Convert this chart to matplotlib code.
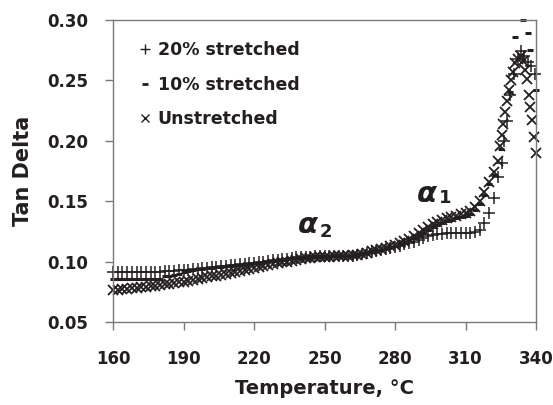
import matplotlib
matplotlib.use("Agg")
import matplotlib.pyplot as plt
from matplotlib.lines import Line2D

# ---------------- data ----------------
grid_T = list(range(160, 324, 2))  # sampling temperatures, 160..322 °C

s20_val = [0.0912, 0.0912, 0.0912, 0.0912, 0.0913, 0.0913, 0.0914, 0.0914, 0.0915, 0.0916,
           0.0918, 0.0920, 0.0922, 0.0925, 0.0928, 0.0931, 0.0934, 0.0937, 0.0941, 0.0945,
           0.0949, 0.0953, 0.0957, 0.0961, 0.0965, 0.0969, 0.0973, 0.0977, 0.0981, 0.0985,
           0.0990, 0.0995, 0.1000, 0.1005, 0.1010, 0.1015, 0.1020, 0.1025, 0.1030, 0.1034,
           0.1037, 0.1040, 0.1042, 0.1044, 0.1045, 0.1045, 0.1045, 0.1045, 0.1045, 0.1046,
           0.1047, 0.1050, 0.1055, 0.1062, 0.1070, 0.1078, 0.1087, 0.1095, 0.1104, 0.1113,
           0.1122, 0.1132, 0.1142, 0.1150, 0.1165, 0.1180, 0.1195, 0.1208, 0.1218, 0.1225,
           0.1230, 0.1233, 0.1235, 0.1236, 0.1236, 0.1237, 0.1238, 0.1245, 0.1265, 0.1320,
           0.1400, 0.1530]
s20_peak_T = [324.0, 325.4, 326.5, 327.6, 329.0, 330.5, 332.3, 333.7, 335.0, 336.5, 338.0, 339.6]
s20_peak_v = [0.170, 0.182, 0.200, 0.216, 0.238, 0.255, 0.268, 0.274, 0.270, 0.265, 0.262, 0.255]

s10_val = [0.0854, 0.0854, 0.0854, 0.0854, 0.0854, 0.0854, 0.0854, 0.0855, 0.0855, 0.0855,
           0.0856, 0.0880, 0.0882, 0.0885, 0.0900, 0.0915, 0.0925, 0.0932, 0.0937, 0.0942,
           0.0946, 0.0950, 0.0954, 0.0958, 0.0962, 0.0966, 0.0970, 0.0974, 0.0978, 0.0982,
           0.0986, 0.0991, 0.0996, 0.1001, 0.1006, 0.1011, 0.1016, 0.1021, 0.1026, 0.1030,
           0.1033, 0.1036, 0.1038, 0.1040, 0.1041, 0.1042, 0.1043, 0.1043, 0.1044, 0.1045,
           0.1046, 0.1050, 0.1056, 0.1063, 0.1071, 0.1080, 0.1090, 0.1100, 0.1110, 0.1120,
           0.1130, 0.1143, 0.1158, 0.1175, 0.1195, 0.1215, 0.1238, 0.1262, 0.1285, 0.1305,
           0.1322, 0.1335, 0.1347, 0.1357, 0.1366, 0.1375, 0.1395, 0.1425, 0.1475, 0.1550,
           0.1640, 0.1720]
s10_peak_T = [325.3, 329.0, 331.0, 334.6, 336.7, 337.4, 340.0]
s10_peak_v = [0.193, 0.240, 0.286, 0.300, 0.289, 0.275, 0.242]

s0_val = [0.0765, 0.0768, 0.0772, 0.0776, 0.0780, 0.0785, 0.0789, 0.0793, 0.0797, 0.0801,
          0.0805, 0.0811, 0.0817, 0.0823, 0.0829, 0.0835, 0.0842, 0.0849, 0.0856, 0.0863,
          0.0870, 0.0877, 0.0884, 0.0891, 0.0898, 0.0905, 0.0913, 0.0921, 0.0929, 0.0937,
          0.0945, 0.0953, 0.0961, 0.0969, 0.0977, 0.0985, 0.0993, 0.1000, 0.1008, 0.1014,
          0.1020, 0.1026, 0.1031, 0.1035, 0.1038, 0.1040, 0.1042, 0.1043, 0.1044, 0.1045,
          0.1047, 0.1052, 0.1058, 0.1066, 0.1075, 0.1085, 0.1095, 0.1105, 0.1115, 0.1125,
          0.1135, 0.1150, 0.1168, 0.1188, 0.1210, 0.1235, 0.1260, 0.1285, 0.1310, 0.1330,
          0.1345, 0.1358, 0.1370, 0.1380, 0.1390, 0.1400, 0.1420, 0.1450, 0.1500, 0.1580,
          0.1660, 0.1740]
s0_peak_T = [324.0, 324.8, 325.4, 326.0, 326.8, 327.6, 328.4, 329.2, 330.0, 331.0,
             332.2, 333.5, 334.5, 335.5, 336.3, 337.0, 337.6, 338.2, 339.0, 340.0]
s0_peak_v = [0.183, 0.196, 0.205, 0.214, 0.224, 0.233, 0.242, 0.250, 0.257, 0.264,
             0.268, 0.270, 0.266, 0.259, 0.251, 0.238, 0.228, 0.217, 0.203, 0.190]

labels = ["20% stretched", "10% stretched", "Unstretched"]
x_ticks = [160, 190, 220, 250, 280, 310, 340]
y_ticks = [0.05, 0.10, 0.15, 0.20, 0.25, 0.30]

# ---------------- figure ----------------
ink = "#231f20"
spine_c = "#7a7a7a"
plt.rcParams["font.family"] = ["DejaVu Sans"]
plt.rcParams["font.weight"] = "bold"

fig = plt.figure(figsize=(5.53, 4.05), dpi=100)
ax = fig.add_axes([113 / 553, 83 / 405, 423 / 553, 302 / 405])

ax.plot(grid_T + s20_peak_T, s20_val + s20_peak_v, linestyle="none", marker="+",
        markersize=8.5, markeredgewidth=1.1, color=ink, clip_on=False)
ax.plot(grid_T + s10_peak_T, s10_val + s10_peak_v, linestyle="none", marker="_",
        markersize=5, markeredgewidth=2.2, color=ink, clip_on=False)
ax.plot(grid_T + s0_peak_T, s0_val + s0_peak_v, linestyle="none", marker="x",
        markersize=7.5, markeredgewidth=1.3, color=ink, clip_on=False)

ax.set_xlim(160, 340)
ax.set_ylim(0.05, 0.30)
ax.set_xticks(x_ticks)
ax.set_yticks(y_ticks)
ax.set_xticklabels([str(v) for v in x_ticks])
ax.set_yticklabels([f"{v:.2f}" for v in y_ticks])
ax.tick_params(axis="both", direction="out", length=6, width=1, color=spine_c,
               labelsize=12, labelcolor=ink)
ax.tick_params(axis="y", pad=12)
ax.tick_params(axis="x", pad=14)
for s in ax.spines.values():
    s.set_color(spine_c)
    s.set_linewidth(1.0)

ax.set_xlabel("Temperature, °C", fontsize=14, fontweight="bold", color=ink, labelpad=8)
ax.set_ylabel("Tan Delta", fontsize=15, fontweight="bold", color=ink, labelpad=10)

# alpha annotations
ax.text(238.7, 0.1238, "α", fontsize=21, fontweight="bold", style="italic",
        color=ink, ha="left", va="baseline")
ax.text(248.1, 0.1205, "2", fontsize=13, fontweight="bold", color=ink,
        ha="left", va="baseline")
ax.text(289.4, 0.1495, "α", fontsize=21, fontweight="bold", style="italic",
        color=ink, ha="left", va="baseline")
ax.text(298.7, 0.1487, "1", fontsize=13, fontweight="bold", color=ink,
        ha="left", va="baseline")

handles = [
    Line2D([], [], linestyle="none", marker="+", markersize=7, markeredgewidth=1.0, color=ink),
    Line2D([], [], linestyle="none", marker="_", markersize=4.5, markeredgewidth=2.0, color=ink),
    Line2D([], [], linestyle="none", marker="x", markersize=6, markeredgewidth=1.0, color=ink),
]
leg = ax.legend(handles, labels, loc="upper left", bbox_to_anchor=(0.054, 0.93),
                frameon=False, fontsize=12.5, handlelength=1.0, handletextpad=0.25,
                labelspacing=0.95, borderpad=0, borderaxespad=0, numpoints=1)
for t in leg.get_texts():
    t.set_color(ink)
    t.set_fontweight("bold")

fig.savefig("out.png", dpi=100)
